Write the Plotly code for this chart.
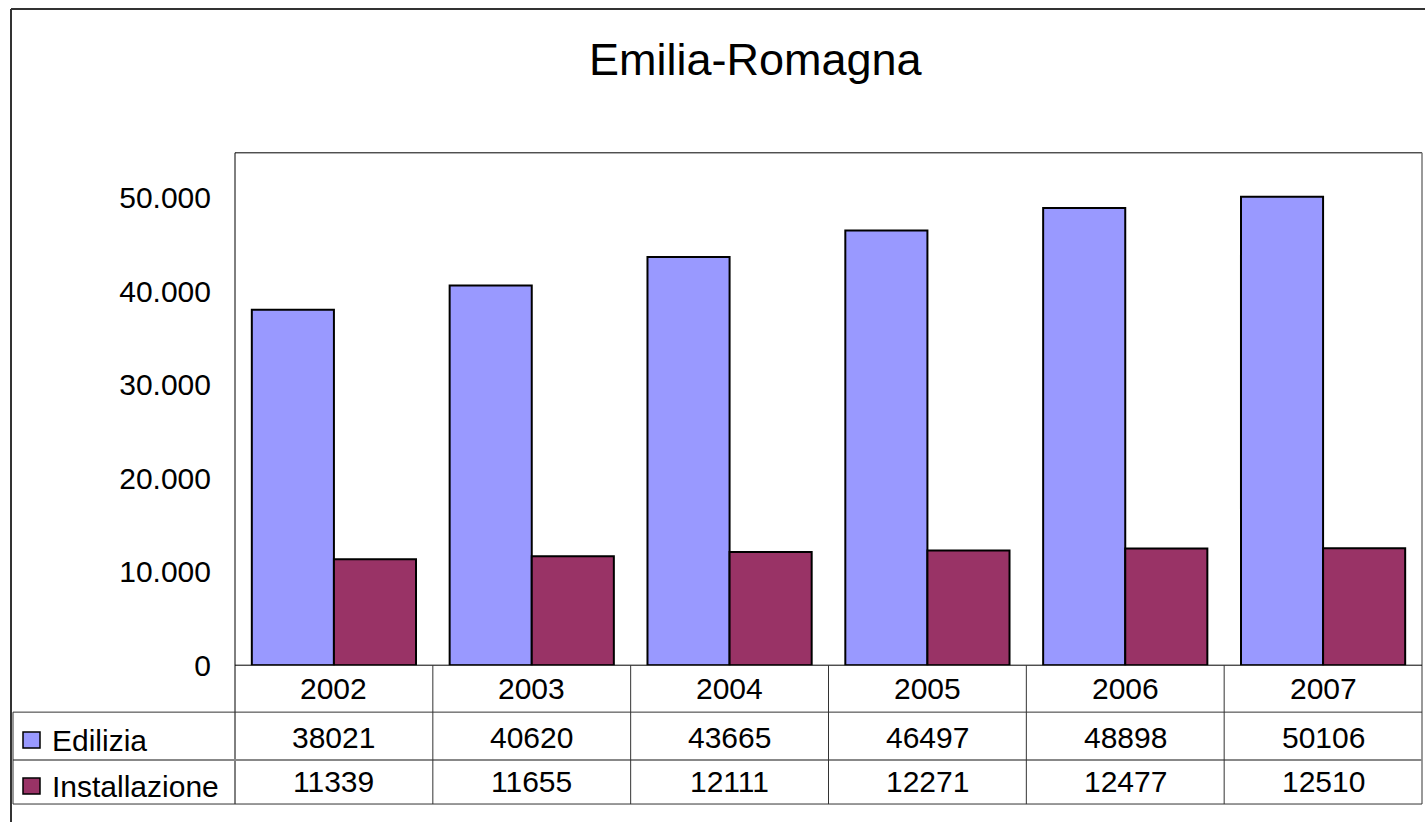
import plotly.graph_objects as go

years = ["2002", "2003", "2004", "2005", "2006", "2007"]
edilizia = [38021, 40620, 43665, 46497, 48898, 50106]
installazione = [11339, 11655, 12111, 12271, 12477, 12510]
series_names = ["Edilizia", "Installazione"]
series_colors = ["#9999FF", "#993366"]
title_text = "Emilia-Romagna"

W, H = 1425, 838
HV = 822  # visible height
FONT = "Liberation Sans, Arial, sans-serif"

def px(x):
    return x / W

def py(y):
    return 1 - y / HV

x0, x1 = 235, 1422
y_top, y_zero = 153, 666
row1, row2, row3 = 713, 761, 805

fig = go.Figure()
for name, vals, col in zip(series_names, [edilizia, installazione], series_colors):
    fig.add_trace(go.Bar(x=years, y=vals, name=name,
                         marker=dict(color=col, line=dict(color="black", width=2)),
                         showlegend=False))

shapes = []
def line(xa, ya, xb, yb, color="black", width=1):
    shapes.append(dict(type="line", xref="paper", yref="paper",
                       x0=px(xa), y0=py(ya), x1=px(xb), y1=py(yb),
                       line=dict(color=color, width=width)))

# outer chart frame
line(11, 9, W + 5, 9, "#333", 2)
line(11, 9, 11, H + 20, "#333", 2)
# plot area frame
line(x0, y_top, x1, y_top, "black", 1)
line(x0, y_top, x0, row3, "black", 1)
line(x1, y_top, x1, row3, "#777", 1.5)
# table lines
line(x0, y_zero, x1, y_zero, "black", 1)
line(13, row1, x1, row1, "#333", 1)
line(13, row2, x1, row2, "#888", 2)
line(13, row3, x1, row3, "#333", 1)
line(13, row1, 13, row3, "#333", 1)
cw = (x1 - x0) / len(years)
for i in range(1, len(years)):
    xx = x0 + cw * i
    line(xx, y_zero, xx, row3, "#333", 1)

# legend keys
for j, col in enumerate(series_colors):
    yc = (row1 + row2) / 2 if j == 0 else (row2 + row3) / 2
    shapes.append(dict(type="rect", xref="paper", yref="paper",
                       x0=px(23), x1=px(40), y0=py(yc - 4), y1=py(yc + 12),
                       fillcolor=col, line=dict(color="black", width=1.5)))

annotations = []
annotations.append(dict(text=title_text, xref="paper", yref="paper", x=px(756), y=py(60),
                        showarrow=False, font=dict(size=45, color="black", family=FONT),
                        xanchor="center", yanchor="middle"))
for j, name in enumerate(series_names):
    yc = (row1 + row2) / 2 if j == 0 else (row2 + row3) / 2
    annotations.append(dict(text=name, xref="paper", yref="paper", x=px(50), y=py(yc + 4),
                            showarrow=False, font=dict(size=30, color="black", family=FONT),
                            xanchor="left", yanchor="middle"))
for i, yr in enumerate(years):
    annotations.append(dict(text=yr, xref="x", yref="paper", x=i, y=py(689),
                            showarrow=False, font=dict(size=30, color="black", family=FONT),
                            xanchor="center", yanchor="middle"))
    annotations.append(dict(text=str(edilizia[i]), xref="x", yref="paper", x=i, y=py(738),
                            showarrow=False, font=dict(size=30, color="black", family=FONT),
                            xanchor="center", yanchor="middle"))
    annotations.append(dict(text=str(installazione[i]), xref="x", yref="paper", x=i, y=py(782),
                            showarrow=False, font=dict(size=30, color="black", family=FONT),
                            xanchor="center", yanchor="middle"))

fig.update_layout(
    width=W, height=H, autosize=False,
    margin=dict(l=0, r=0, t=0, b=0),
    paper_bgcolor="white", plot_bgcolor="white",
    barmode="group", bargap=0.17, bargroupgap=0,
    separators=",.",
    font=dict(family=FONT, color="black"),
    shapes=shapes, annotations=annotations,
    xaxis=dict(type="category", domain=[px(x0), px(x1)], showticklabels=False, showgrid=False,
               zeroline=False, showline=False, ticks=""),
    yaxis=dict(domain=[py(y_zero), py(y_top)], range=[0, 54800], tickvals=[0, 10000, 20000, 30000, 40000, 50000],
               tickformat=",d", showgrid=False, zeroline=False, showline=False,
               ticks="outside", ticklen=17, tickcolor="rgba(0,0,0,0)",
               tickfont=dict(size=30, color="black", family=FONT)),
)

fig.write_html("out.html", config={"displayModeBar": False},
               post_script="document.body.style.margin='0';document.body.style.overflow='hidden';")
